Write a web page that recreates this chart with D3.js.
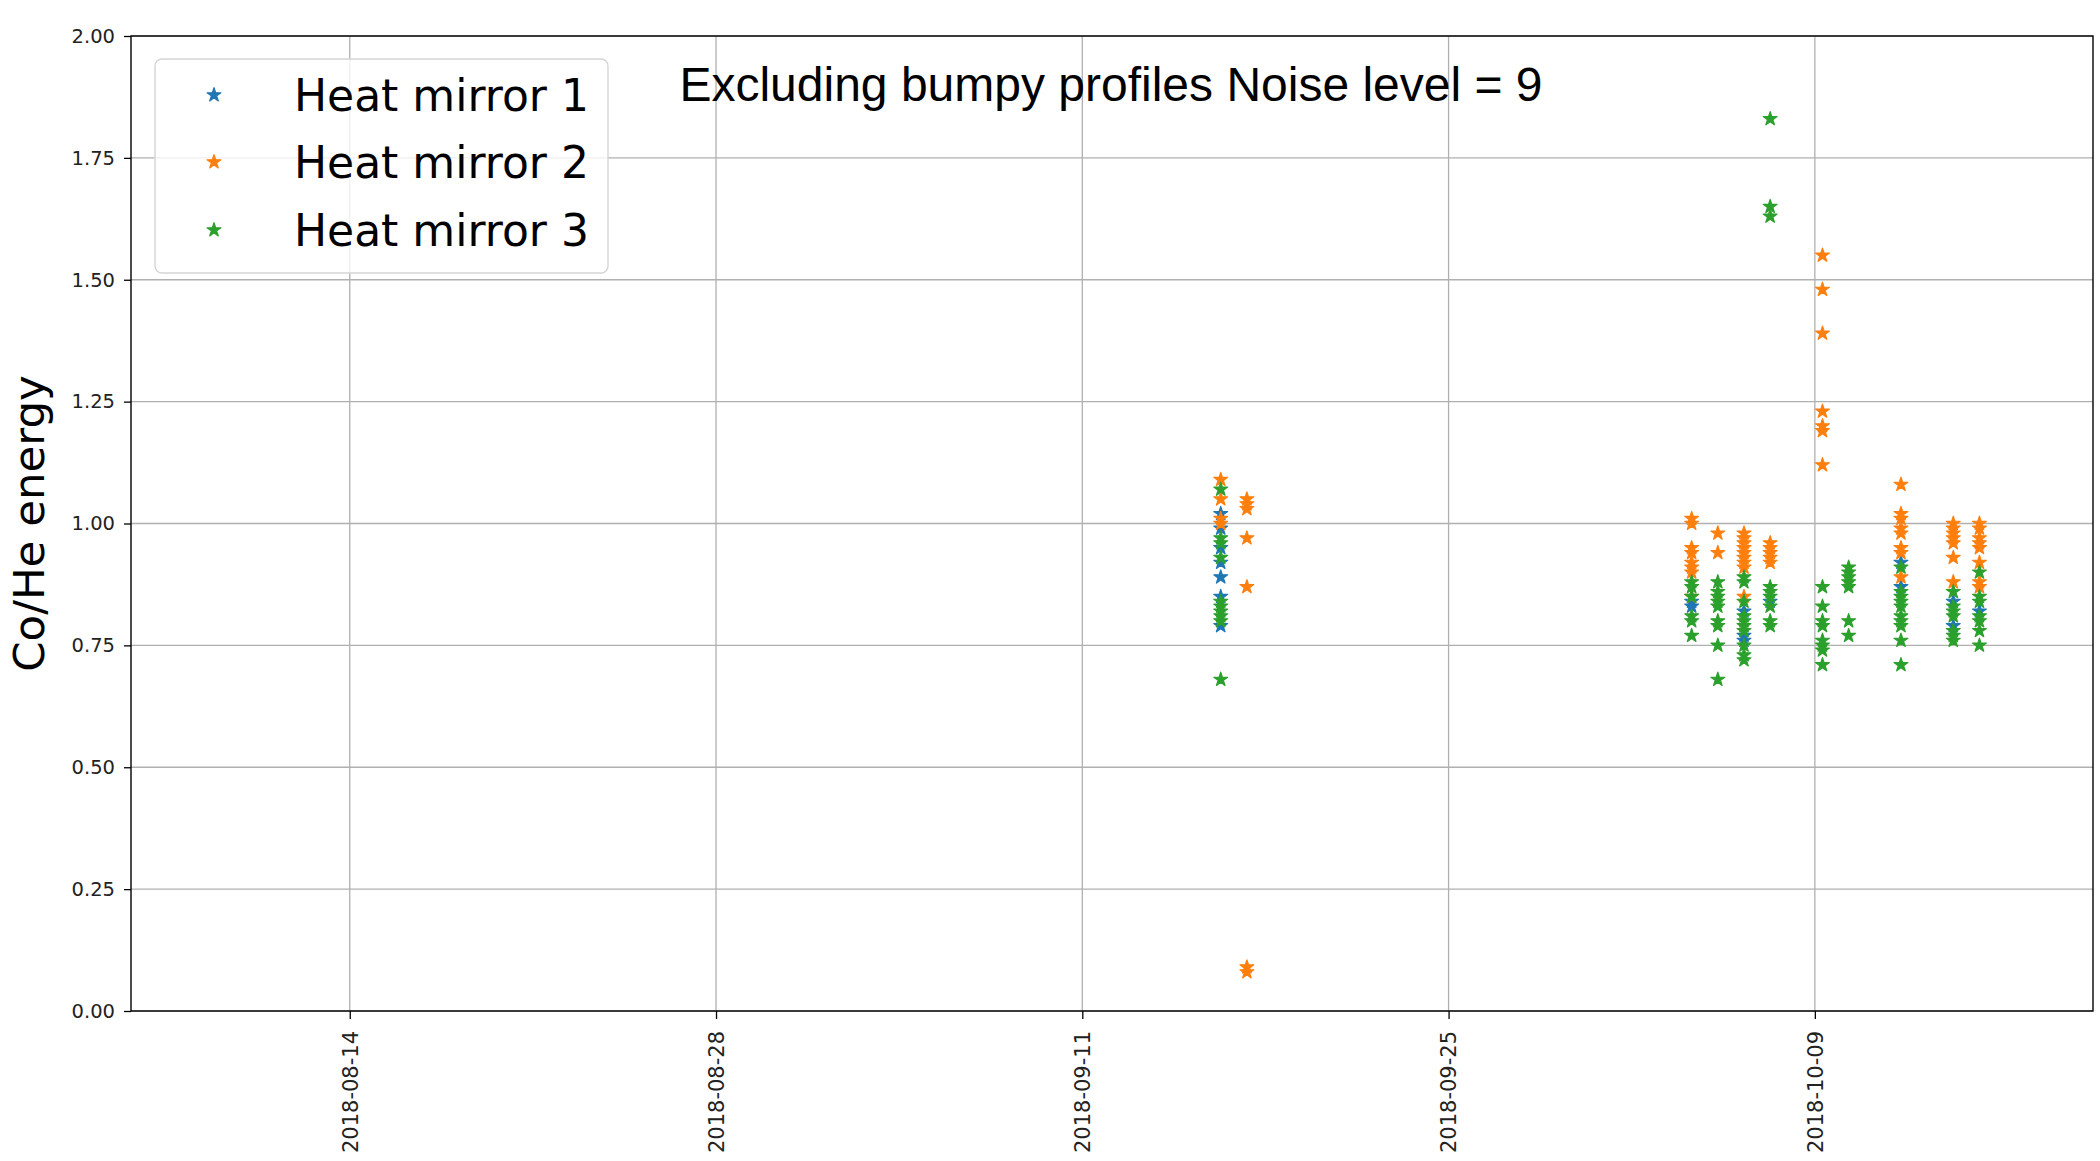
<!DOCTYPE html>
<html>
<head>
<meta charset="utf-8">
<script src="https://cdn.jsdelivr.net/npm/d3@7"></script>
<style>
  html, body { margin: 0; padding: 0; background: #fff; }
  svg { display: block; }
</style>
</head>
<body>
<svg id="chart" width="2100" height="1161"></svg>
<script>
// Measurement days (each sample taken around 07:00 UTC)
const dates = [
  "2018-09-16T07:00", "2018-09-17T07:00", "2018-10-04T07:00", "2018-10-05T07:00",
  "2018-10-06T07:00", "2018-10-07T07:00", "2018-10-09T07:00", "2018-10-10T07:00",
  "2018-10-12T07:00", "2018-10-14T07:00", "2018-10-15T07:00"
];

// Co/He energy per day, one list per measurement day
const heatMirror1 = [
  [1.02, 0.99, 0.95, 0.92, 0.89, 0.85, 0.79],
  [],
  [0.84, 0.83],
  [],
  [0.82, 0.77, 0.76],
  [0.84],
  [],
  [],
  [0.92, 0.87],
  [0.84, 0.79],
  [0.82]
];
const heatMirror2 = [
  [1.09, 1.05, 1.01, 1.00],
  [1.05, 1.04, 1.03, 0.97, 0.87, 0.09, 0.08],
  [1.01, 1.00, 0.95, 0.94, 0.92, 0.91, 0.90, 0.85],
  [0.98, 0.94],
  [0.98, 0.97, 0.96, 0.95, 0.94, 0.93, 0.92, 0.91, 0.85],
  [0.96, 0.95, 0.94, 0.93, 0.92],
  [1.55, 1.48, 1.39, 1.23, 1.20, 1.19, 1.12],
  [],
  [1.08, 1.02, 1.01, 0.99, 0.98, 0.95, 0.94, 0.89],
  [1.00, 0.99, 0.98, 0.97, 0.96, 0.93, 0.88],
  [1.00, 0.99, 0.97, 0.96, 0.95, 0.92, 0.88, 0.87]
];
const heatMirror3 = [
  [1.07, 0.97, 0.96, 0.93, 0.84, 0.83, 0.82, 0.81, 0.80, 0.68],
  [],
  [0.88, 0.87, 0.85, 0.81, 0.80, 0.77],
  [0.88, 0.86, 0.85, 0.84, 0.83, 0.80, 0.79, 0.75, 0.68],
  [0.89, 0.88, 0.84, 0.81, 0.80, 0.79, 0.78, 0.75, 0.73, 0.72],
  [1.83, 1.65, 1.63, 0.87, 0.86, 0.85, 0.83, 0.80, 0.79],
  [0.87, 0.83, 0.80, 0.79, 0.76, 0.75, 0.74, 0.71],
  [0.91, 0.90, 0.89, 0.88, 0.87, 0.80, 0.77],
  [0.91, 0.86, 0.85, 0.84, 0.83, 0.81, 0.80, 0.79, 0.76, 0.71],
  [0.86, 0.83, 0.82, 0.81, 0.78, 0.77, 0.76],
  [0.90, 0.85, 0.84, 0.81, 0.80, 0.78, 0.75]
];

const seriesNames = ["Heat mirror 1", "Heat mirror 2", "Heat mirror 3"];
const seriesColors = ["#1f77b4", "#ff7f0e", "#2ca02c"];

const xTickLabels = ["2018-08-14", "2018-08-28", "2018-09-11", "2018-09-25", "2018-10-09"];
const yTickValues = [0, 0.25, 0.5, 0.75, 1.0, 1.25, 1.5, 1.75, 2.0];
const xDomain = ["2018-08-05T15:20", "2018-10-19T15:10"];
const yDomain = [0, 2];

const titleText = "Excluding bumpy profiles Noise level = 9";
const yLabelText = "Co/He energy";

// ---- layout ----
const plot = { left: 131, right: 2093, top: 36, bottom: 1011 };
const parse = d3.utcParse("%Y-%m-%dT%H:%M");
const parseDay = d3.utcParse("%Y-%m-%d");

const x = d3.scaleUtc().domain(xDomain.map(parse)).range([plot.left, plot.right]);
const y = d3.scaleLinear().domain(yDomain).range([plot.bottom, plot.top]);

const svg = d3.select("#chart");
const tickFont = "'DejaVu Sans', sans-serif";

// grid
const grid = svg.append("g").attr("stroke", "#b0b0b0").attr("stroke-width", 1.3);
grid.selectAll("line.v").data(xTickLabels).join("line")
  .attr("x1", d => x(parseDay(d))).attr("x2", d => x(parseDay(d)))
  .attr("y1", plot.top).attr("y2", plot.bottom);
grid.selectAll("line.h").data(yTickValues).join("line")
  .attr("x1", plot.left).attr("x2", plot.right)
  .attr("y1", d => y(d)).attr("y2", d => y(d));

// x axis
const xAxis = svg.append("g")
  .attr("transform", `translate(0,${plot.bottom})`)
  .call(d3.axisBottom(x)
    .tickValues(xTickLabels.map(parseDay))
    .tickFormat(d3.utcFormat("%Y-%m-%d"))
    .tickSize(8).tickPadding(10));
xAxis.select(".domain").remove();
xAxis.selectAll(".tick line").attr("stroke", "#000").attr("stroke-width", 1.3);
xAxis.selectAll(".tick text")
  .attr("font-family", tickFont).attr("font-size", 21).attr("fill", "#222")
  .attr("transform", "rotate(-90)")
  .attr("text-anchor", "end")
  .attr("dy", "0.35em")
  .attr("x", -20).attr("y", 0);

// y axis
const yAxis = svg.append("g")
  .attr("transform", `translate(${plot.left},0)`)
  .call(d3.axisLeft(y)
    .tickValues(yTickValues)
    .tickFormat(d3.format(".2f"))
    .tickSize(7).tickPadding(9));
yAxis.select(".domain").remove();
yAxis.selectAll(".tick line").attr("stroke", "#000").attr("stroke-width", 1.3);
yAxis.selectAll(".tick text")
  .attr("font-family", tickFont).attr("font-size", 19.5).attr("fill", "#222");

// points
const seriesData = [heatMirror1, heatMirror2, heatMirror3];
const star = d3.symbol().type(d3.symbolStar).size(60);
seriesData.forEach((series, si) => {
  const pts = [];
  series.forEach((vals, di) => vals.forEach(v => pts.push({ t: parse(dates[di]), v })));
  svg.append("g").selectAll("path").data(pts).join("path")
    .attr("d", star)
    .attr("transform", d => `translate(${x(d.t)},${y(d.v)})`)
    .attr("fill", seriesColors[si])
    .attr("stroke", seriesColors[si])
    .attr("stroke-width", 1.2)
    .attr("stroke-linejoin", "round");
});

// frame
svg.append("rect")
  .attr("x", plot.left).attr("y", plot.top)
  .attr("width", plot.right - plot.left).attr("height", plot.bottom - plot.top)
  .attr("fill", "none").attr("stroke", "#000").attr("stroke-width", 1.4);

// title
svg.append("text")
  .attr("x", 1111).attr("y", 101)
  .attr("text-anchor", "middle")
  .attr("font-family", "'Liberation Sans', Arial, sans-serif")
  .attr("font-size", 48)
  .attr("fill", "#000")
  .text(titleText);

// y label
svg.append("text")
  .attr("transform", `translate(44,${(plot.top + plot.bottom) / 2}) rotate(-90)`)
  .attr("text-anchor", "middle")
  .attr("font-family", "'DejaVu Sans', sans-serif")
  .attr("font-size", 43.5)
  .attr("fill", "#000")
  .text(yLabelText);

// legend
const legend = svg.append("g");
legend.append("rect")
  .attr("x", 155).attr("y", 59).attr("width", 453).attr("height", 214)
  .attr("rx", 7).attr("ry", 7)
  .attr("fill", "#fff").attr("fill-opacity", 0.8)
  .attr("stroke", "#d5d5d5").attr("stroke-width", 1.4);
const rowY = [95, 162, 230];
seriesNames.forEach((name, i) => {
  legend.append("path")
    .attr("d", star)
    .attr("transform", `translate(214,${rowY[i]})`)
    .attr("fill", seriesColors[i]).attr("stroke", seriesColors[i])
    .attr("stroke-width", 1.2).attr("stroke-linejoin", "round");
  legend.append("text")
    .attr("x", 294).attr("y", rowY[i])
    .attr("dy", "0.36em")
    .attr("font-family", "'DejaVu Sans', sans-serif")
    .attr("font-size", 44)
    .attr("fill", "#000")
    .text(name);
});
</script>
</body>
</html>
